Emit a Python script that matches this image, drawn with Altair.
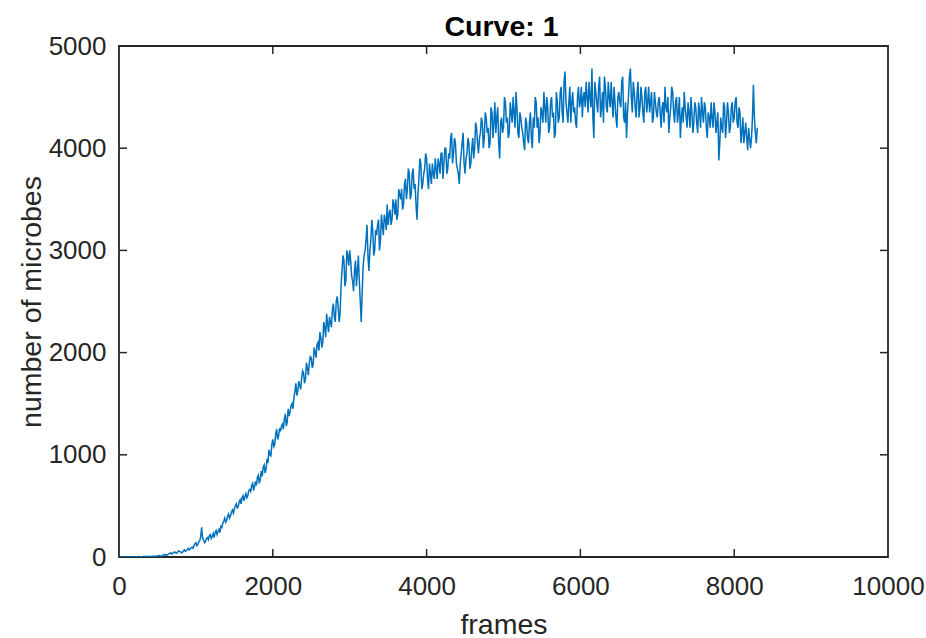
import altair as alt
import pandas as pd

# Frame step of the sampled curve (values at every step, plus one in between)
frame_step = 25

# Number of microbes at frames 0, 25, 50, ... in blocks of 500 frames
microbes_0000 = [0, 1, 0, 0, 2, 0, 1, 3, 0, 2, 4, 1, 3, 6, 2, 5, 8, 4, 9, 6]
microbes_0500 = [10, 15, 8, 20, 25, 18, 30, 42, 35, 50, 38, 60, 52, 45, 70, 62, 85, 78, 95, 110]
microbes_1000 = [140, 120, 160, 290, 170, 150, 190, 210, 180, 230, 240, 220, 270, 300, 330, 380, 360, 420, 400, 460]
microbes_1500 = [470, 520, 490, 560, 580, 550, 620, 600, 660, 700, 650, 740, 780, 720, 840, 880, 820, 960, 1050, 990]
microbes_2000 = [1150, 1100, 1250, 1180, 1230, 1300, 1350, 1280, 1450, 1420, 1500, 1560, 1700, 1620, 1680, 1750, 1800, 1740, 1850, 1900]
microbes_2500 = [1950, 1880, 2000, 2080, 2020, 2150, 2100, 2250, 2380, 2200, 2300, 2420, 2350, 2500, 2450, 2380, 2800, 2900, 2700, 2950]
microbes_3000 = [3000, 2750, 2600, 2900, 2800, 2700, 2300, 2850, 3000, 3250, 2800, 3100, 3200, 3000, 3150, 3300, 3100, 3250, 3350, 3200]
microbes_3500 = [3250, 3400, 3300, 3450, 3500, 3350, 3550, 3600, 3450, 3700, 3600, 3750, 3550, 3800, 3650, 3300, 3700, 3850, 3650, 3800]
microbes_4000 = [3900, 3600, 3750, 3850, 3700, 3800, 3900, 3750, 3950, 3850, 4000, 3800, 3900, 4150, 3950, 4050, 3800, 3650, 3950, 4150]
microbes_4500 = [3750, 3950, 4050, 3850, 4100, 4000, 4200, 3950, 4150, 4250, 4100, 4300, 4200, 4050, 4350, 4250, 4150, 4400, 3900, 4300]
microbes_5000 = [4200, 4450, 4300, 4150, 4350, 4500, 4200, 4400, 4100, 4300, 4150, 3980, 4250, 4050, 4350, 4000, 4200, 4450, 4300, 4150]
microbes_5500 = [4350, 4550, 4250, 4400, 4200, 4500, 4350, 4150, 4450, 4300, 4600, 4250, 4750, 4350, 4450, 4250, 4550, 4400, 4200, 4600]
microbes_6000 = [4450, 4300, 4550, 4650, 4350, 4500, 4780, 4100, 4550, 4350, 4700, 4400, 4250, 4600, 4350, 4500, 4650, 4300, 4450, 4200]
microbes_6500 = [4550, 4400, 4700, 4250, 4100, 4500, 4780, 4350, 4550, 4300, 4650, 4400, 4500, 4250, 4600, 4450, 4350, 4550, 4300, 4450]
microbes_7000 = [4300, 4500, 4200, 4450, 4600, 4350, 4150, 4400, 4550, 4250, 4500, 4350, 4100, 4400, 4550, 4300, 4450, 4200, 4350, 4250]
microbes_7500 = [4400, 4150, 4350, 4500, 4250, 4400, 4100, 4300, 4450, 4200, 4350, 4250, 3880, 4300, 4150, 4400, 4250, 4350, 4200, 4450]
microbes_8000 = [4300, 4500, 4200, 4350, 4150, 4050, 4250, 3980, 4100, 4100, 4620, 4150, 4200]

# Values read in between (frames 12.5, 37.5, 62.5, ...)
between_0000 = [0, 0, 1, 0, 0, 2, 0, 1, 2, 1, 2, 3, 4, 3, 6, 4, 6, 7, 5, 9]
between_0500 = [12, 10, 14, 22, 16, 25, 35, 30, 45, 40, 48, 55, 40, 60, 55, 72, 70, 90, 85, 130]
between_1000 = [110, 150, 200, 180, 140, 180, 170, 220, 200, 190, 260, 250, 240, 290, 350, 340, 400, 380, 440, 430]
between_1500 = [500, 480, 540, 520, 600, 590, 580, 650, 640, 720, 690, 700, 800, 760, 790, 900, 860, 920, 1000, 1100]
between_2000 = [1080, 1200, 1150, 1260, 1280, 1250, 1400, 1320, 1380, 1480, 1450, 1620, 1580, 1720, 1640, 1820, 1700, 1900, 1780, 1960]
between_2500 = [1850, 2050, 1950, 2100, 2200, 2050, 2300, 2150, 2280, 2350, 2250, 2480, 2300, 2550, 2300, 2650, 2950, 2650, 3000, 2850]
between_3000 = [2900, 2700, 2800, 2650, 2950, 2500, 2600, 2950, 3100, 2950, 3000, 3300, 2950, 3200, 3250, 3000, 3350, 3150, 3300, 3450]
between_3500 = [3350, 3250, 3500, 3350, 3300, 3600, 3500, 3400, 3650, 3500, 3800, 3500, 3750, 3600, 3450, 3550, 3900, 3600, 3750, 3950]
between_4000 = [3700, 3850, 3650, 3750, 3900, 3700, 3850, 3950, 3700, 4000, 3750, 3950, 4100, 3850, 4100, 3850, 3750, 3850, 4050, 3850]
between_4500 = [3900, 4100, 3800, 4000, 3900, 4250, 4050, 4100, 4300, 4000, 4350, 4150, 4000, 4400, 4100, 4450, 4300, 4050, 4250, 4150]
between_5000 = [4500, 4250, 4100, 4450, 4250, 4350, 4550, 4150, 4350, 4200, 4050, 4300, 4100, 4250, 4100, 4300, 4500, 4200, 4050, 4400]
between_5500 = [4250, 4400, 4500, 4150, 4450, 4300, 4100, 4550, 4250, 4550, 4350, 4650, 4450, 4250, 4600, 4450, 4350, 4250, 4500, 4400]
between_6000 = [4600, 4500, 4400, 4500, 4650, 4400, 4300, 4650, 4450, 4600, 4300, 4550, 4700, 4400, 4650, 4400, 4450, 4600, 4300, 4500]
between_6500 = [4450, 4650, 4300, 4450, 4350, 4700, 4500, 4650, 4400, 4550, 4300, 4600, 4350, 4550, 4350, 4600, 4450, 4250, 4550, 4350]
between_7000 = [4450, 4350, 4400, 4250, 4400, 4500, 4300, 4600, 4350, 4450, 4250, 4500, 4300, 4250, 4400, 4200, 4350, 4500, 4150, 4450]
between_7500 = [4250, 4450, 4200, 4350, 4450, 4200, 4350, 4200, 4300, 4450, 4150, 4350, 4050, 4200, 4450, 4100, 4450, 4150, 4400, 4250]
between_8000 = [4450, 4250, 4400, 4050, 4300, 4150, 4100, 4200, 4000, 4300, 4300, 4050]

title_text = ["Curve: 1"]
x_ticks = [0, 2000, 4000, 6000, 8000, 10000]
y_ticks = [0, 1000, 2000, 3000, 4000, 5000]
x_inner_ticks = [2000, 4000, 6000, 8000]
y_inner_ticks = [1000, 2000, 3000, 4000]

counts = (microbes_0000 + microbes_0500 + microbes_1000 + microbes_1500 + microbes_2000
          + microbes_2500 + microbes_3000 + microbes_3500 + microbes_4000 + microbes_4500
          + microbes_5000 + microbes_5500 + microbes_6000 + microbes_6500 + microbes_7000
          + microbes_7500 + microbes_8000)
mids = (between_0000 + between_0500 + between_1000 + between_1500 + between_2000
        + between_2500 + between_3000 + between_3500 + between_4000 + between_4500
        + between_5000 + between_5500 + between_6000 + between_6500 + between_7000
        + between_7500 + between_8000)

rows = []
for i, v in enumerate(counts):
    rows.append((i * frame_step, v))
    if i < len(mids):
        rows.append((i * frame_step + frame_step / 2, mids[i]))
df = pd.DataFrame(rows, columns=["frames", "microbes"])

W, H = 769, 511
AX = "#262626"
FONT = "Liberation Sans"
TICK = 8

xscale = alt.Scale(domain=[0, 10000], nice=False, zero=False)
yscale = alt.Scale(domain=[0, 5000], nice=False, zero=False)

x_axis = alt.Axis(values=x_ticks, title="frames", format="d", labelFlush=False,
                  titleX=W / 2, titleY=76, titleBaseline="alphabetic", titleAlign="center",
                  labelPadding=16, labelBaseline="top")
y_axis = alt.Axis(values=y_ticks, title="number of microbes", format="d", labelFlush=False,
                  titleX=-79, titleY=H / 2, titleBaseline="alphabetic", titleAlign="center",
                  titleAngle=270, labelPadding=13)

line = alt.Chart(df).mark_line(color="#0072BD", strokeWidth=1.5, clip=True).encode(
    x=alt.X("frames:Q", scale=xscale, axis=x_axis),
    y=alt.Y("microbes:Q", scale=yscale, axis=y_axis),
)

xt = pd.DataFrame({"t": x_inner_ticks})
yt = pd.DataFrame({"t": y_inner_ticks})

xb = alt.Chart(xt).mark_rule(color=AX, strokeWidth=1.5).encode(
    x=alt.X("t:Q", scale=xscale, axis=x_axis), y=alt.value(H), y2=alt.value(H - TICK))
xtop = alt.Chart(xt).mark_rule(color=AX, strokeWidth=1.5).encode(
    x=alt.X("t:Q", scale=xscale, axis=x_axis), y=alt.value(0), y2=alt.value(TICK))
yl = alt.Chart(yt).mark_rule(color=AX, strokeWidth=1.5).encode(
    y=alt.Y("t:Q", scale=yscale, axis=y_axis), x=alt.value(0), x2=alt.value(TICK))
yr = alt.Chart(yt).mark_rule(color=AX, strokeWidth=1.5).encode(
    y=alt.Y("t:Q", scale=yscale, axis=y_axis), x=alt.value(W), x2=alt.value(W - TICK))

title = alt.Chart(pd.DataFrame({"t": title_text})).mark_text(
    font=FONT, fontSize=28.5, fontWeight="bold", color="#000000",
    align="center", baseline="alphabetic"
).encode(text="t:N", x=alt.value(W / 2 - 2), y=alt.value(-10))

chart = alt.layer(line, xb, xtop, yl, yr, title).properties(
    width=W, height=H,
    autosize=alt.AutoSizeParams(type="none"),
    padding={"left": 119, "top": 46, "right": 38, "bottom": 81},
    background="white",
).configure_view(
    stroke=AX, strokeWidth=1.8
).configure_axis(
    ticks=False, tickSize=0, domain=False, grid=False,
    labelFont=FONT, labelFontSize=26, labelColor=AX,
    titleFont=FONT, titleFontSize=28.5, titleColor=AX, titleFontWeight="normal",
)

chart.save("out.html", embed_options={"renderer": "svg", "actions": False})
